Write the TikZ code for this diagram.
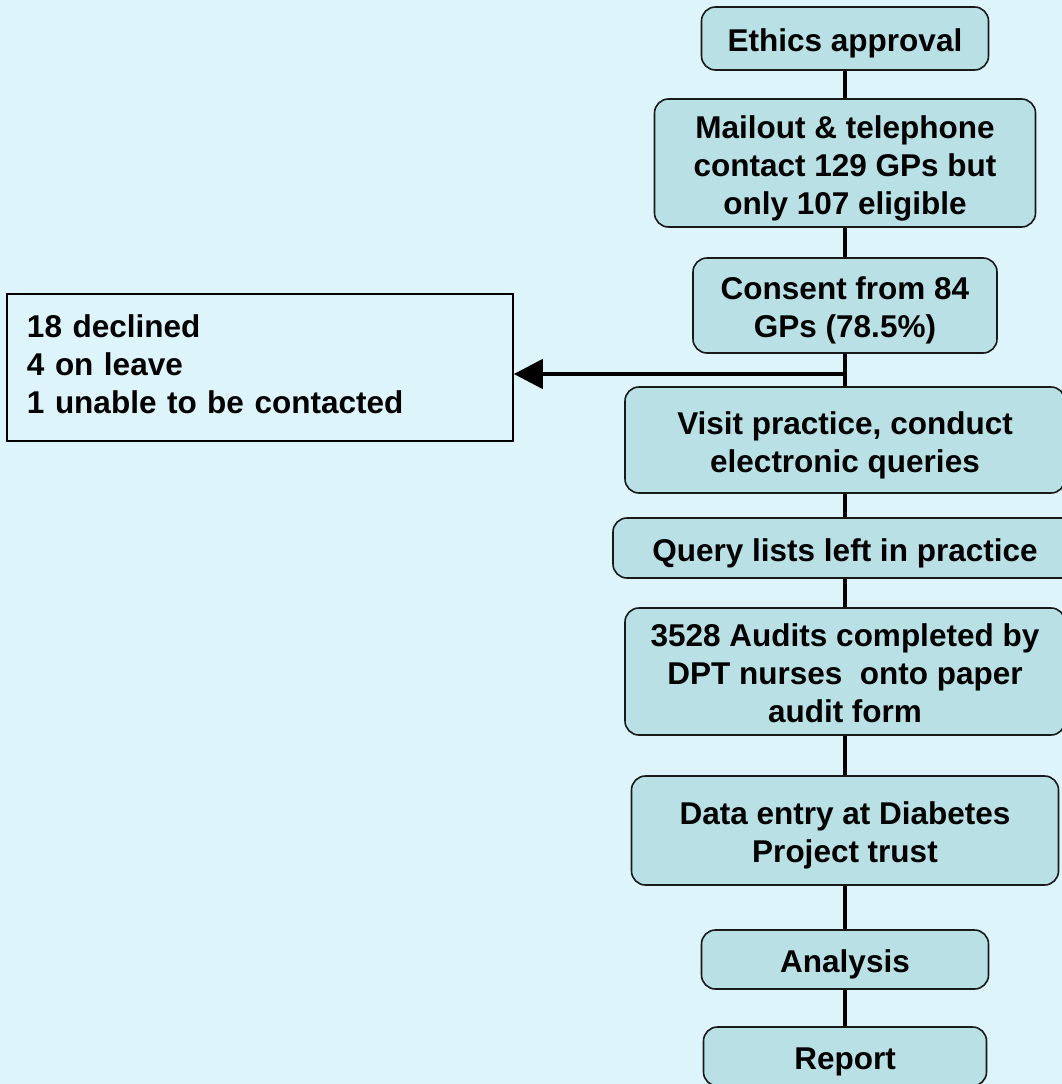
\documentclass[tikz,border=0pt]{standalone}
\usepackage{fontspec}
\setmainfont{Liberation Sans}
\usetikzlibrary{arrows.meta}
\definecolor{bgcyan}{RGB}{221,244,251}
\definecolor{boxteal}{RGB}{185,224,228}
% fixed first-line height and last-line depth so every box centres its text alike
\newcommand{\firststrut}{\rule{0pt}{33pt}}
\newcommand{\laststrut}{\rule[-7pt]{0pt}{7pt}}
\begin{document}
\begin{tikzpicture}[x=1pt,y=-1pt,
  stepbox/.style={draw=black!90, line width=1.6pt, fill=boxteal,
    rounded corners=14pt, align=center, inner sep=0pt,
    font=\bfseries\fontsize{31.5}{38}\selectfont},
  notebox/.style={draw=black, line width=1.6pt, fill=bgcyan,
    align=left, inner xsep=20pt, inner ysep=0pt, text width=466pt,
    minimum height=147pt,
    font=\bfseries\fontsize{31.5}{38}\selectfont},
  link/.style={line width=4pt},
  exclusion/.style={line width=4.5pt, -{Triangle[length=29pt,width=29pt]}}]
\useasboundingbox (0,0) rectangle (1062,1084);
\fill[bgcyan] (0,0) rectangle (1062,1084);
\clip (0,0) rectangle (1062,1084);

% main flow, centred on one vertical axis
\node[stepbox, minimum width=287pt, minimum height=63pt]  (ethics)   at (845,38.5)  {\firststrut Ethics approval\laststrut};
\node[stepbox, minimum width=381pt, minimum height=128pt] (mailout)  at (845,163)   {\firststrut Mailout \& telephone\\contact 129 GPs but\\only 107 eligible\laststrut};
\node[stepbox, minimum width=304pt, minimum height=95pt]  (consent)  at (845,305.5) {\firststrut Consent from 84\\GPs (78.5\%)\laststrut};
\node[stepbox, minimum width=440pt, minimum height=106pt] (visit)    at (845,440)   {\firststrut Visit practice, conduct\\electronic queries\laststrut};
\node[stepbox, minimum width=464pt, minimum height=60pt]  (query)    at (845,548)   {\firststrut Query lists left in practice\laststrut};
\node[stepbox, minimum width=440pt, minimum height=127pt] (audits)   at (845,671.5) {\firststrut 3528 Audits completed by\\DPT nurses~ onto paper\\audit form\laststrut};
\node[stepbox, minimum width=427pt, minimum height=109pt] (dataentry) at (845,830.5) {\firststrut Data entry at Diabetes\\Project trust\laststrut};
\node[stepbox, minimum width=287pt, minimum height=59pt]  (analysis) at (845,959.5) {\firststrut Analysis\laststrut};
\node[stepbox, minimum width=283pt, minimum height=59pt]  (report)   at (845,1056.5) {\firststrut Report\laststrut};

% excluded practices
\node[notebox] (excluded) at (260,367.5) {18 declined\\4 on leave\\1 unable to be contacted\laststrut};

% connectors
\draw[link] (ethics) -- (mailout);
\draw[link] (mailout) -- (consent);
\draw[link] (consent) -- (visit);
\draw[link] (visit) -- (query);
\draw[link] (query) -- (audits);
\draw[link] (audits) -- (dataentry);
\draw[link] (dataentry) -- (analysis);
\draw[link] (analysis) -- (report);

\coordinate (branch) at (847,374);
\draw[exclusion] (branch) -- (branch -| excluded.east);
\end{tikzpicture}
\end{document}
